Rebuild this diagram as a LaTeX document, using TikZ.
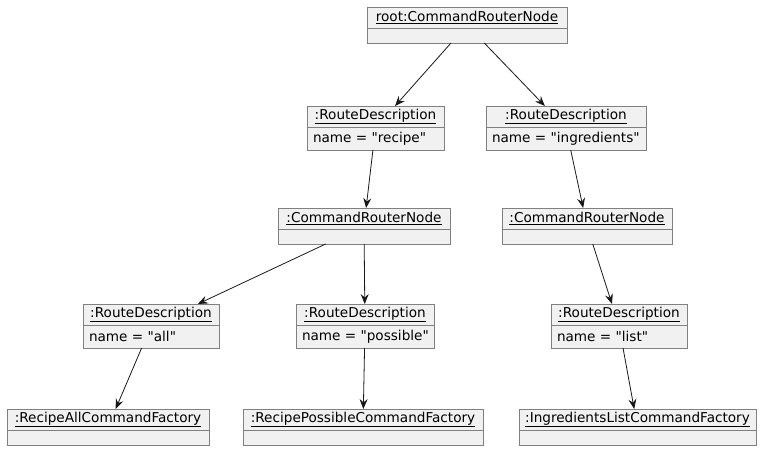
\documentclass[tikz,border=0pt]{standalone}
\usepackage{fontspec}
\setmainfont{DejaVu Sans}
\usetikzlibrary{arrows.meta}

\begin{document}
\begin{tikzpicture}[x=1pt,y=-1pt,line cap=rect,
		objbox/.style={draw=custcol_80_80_80, fill=custcol_f1_f1_f1, line width=1.0pt, inner sep=0, outer sep=0},
		objline/.style={draw=custcol_80_80_80, line width=1.0pt},
		objtitle/.style={inner sep=0, outer sep=0, anchor=center, font=\fontsize{13.6pt}{13.6pt}\selectfont},
		objattr/.style={inner sep=0, outer sep=0, anchor=west, font=\fontsize{13.6pt}{13.6pt}\selectfont},
		link/.style={draw=custcol_18_18_18, line width=0.8pt, line cap=butt, -{Stealth[length=10pt,width=8pt,inset=3.5pt]}}]
				\def\q{\textquotedbl} % straight quote, not the curly one
				\definecolor{custcol_80_80_80}{RGB}{128, 128, 128}
				\definecolor{custcol_f1_f1_f1}{RGB}{241, 241, 241}
				\definecolor{custcol_18_18_18}{RGB}{24, 24, 24}
				\useasboundingbox (0.0,0.0) rectangle (764.0,450.0);
				% row 1
				\node[objbox, minimum width=200pt, minimum height=36pt] (root) at (467.0,25.0) {};
				\draw [objline] ([yshift=-21pt]root.north west) -- ([yshift=-21pt]root.north east);
				\node[objtitle] (rootT) at ([yshift=-10.5pt]root.north) {\underline{root:CommandRouterNode}};
				% row 2
				\node[objbox, minimum width=137pt, minimum height=44pt] (recipe) at (375.5,128.0) {};
				\draw [objline] ([yshift=-21pt]recipe.north west) -- ([yshift=-21pt]recipe.north east);
				\node[objtitle] (recipeT) at ([yshift=-10.5pt]recipe.north) {\underline{:RouteDescription}};
				\node[objattr] (recipeA) at ([xshift=6pt,yshift=-32.5pt]recipe.north west) {name = \q recipe\q};
				\node[objbox, minimum width=160pt, minimum height=44pt] (ingredients) at (566.0,128.0) {};
				\draw [objline] ([yshift=-21pt]ingredients.north west) -- ([yshift=-21pt]ingredients.north east);
				\node[objtitle] (ingredientsT) at ([yshift=-10.5pt]ingredients.north) {\underline{:RouteDescription}};
				\node[objattr] (ingredientsA) at ([xshift=6pt,yshift=-32.5pt]ingredients.north west) {name = \q ingredients\q};
				% row 3
				\node[objbox, minimum width=172pt, minimum height=36pt] (recipeRouter) at (364.0,226.0) {};
				\draw [objline] ([yshift=-21pt]recipeRouter.north west) -- ([yshift=-21pt]recipeRouter.north east);
				\node[objtitle] (recipeRouterT) at ([yshift=-10.5pt]recipeRouter.north) {\underline{:CommandRouterNode}};
				\node[objbox, minimum width=170pt, minimum height=36pt] (ingredientsRouter) at (587.0,226.0) {};
				\draw [objline] ([yshift=-21pt]ingredientsRouter.north west) -- ([yshift=-21pt]ingredientsRouter.north east);
				\node[objtitle] (ingredientsRouterT) at ([yshift=-10.5pt]ingredientsRouter.north) {\underline{:CommandRouterNode}};
				% row 4
				\node[objbox, minimum width=136pt, minimum height=44pt] (all) at (151.0,326.0) {};
				\draw [objline] ([yshift=-21pt]all.north west) -- ([yshift=-21pt]all.north east);
				\node[objtitle] (allT) at ([yshift=-10.5pt]all.north) {\underline{:RouteDescription}};
				\node[objattr] (allA) at ([xshift=6pt,yshift=-32.5pt]all.north west) {name = \q all\q};
				\node[objbox, minimum width=138pt, minimum height=44pt] (possible) at (365.0,326.0) {};
				\draw [objline] ([yshift=-21pt]possible.north west) -- ([yshift=-21pt]possible.north east);
				\node[objtitle] (possibleT) at ([yshift=-10.5pt]possible.north) {\underline{:RouteDescription}};
				\node[objattr] (possibleA) at ([xshift=6pt,yshift=-32.5pt]possible.north west) {name = \q possible\q};
				\node[objbox, minimum width=136pt, minimum height=44pt] (list) at (619.0,326.0) {};
				\draw [objline] ([yshift=-21pt]list.north west) -- ([yshift=-21pt]list.north east);
				\node[objtitle] (listT) at ([yshift=-10.5pt]list.north) {\underline{:RouteDescription}};
				\node[objattr] (listA) at ([xshift=6pt,yshift=-32.5pt]list.north west) {name = \q list\q};
				% row 5
				\node[objbox, minimum width=202pt, minimum height=36pt] (allFactory) at (108.0,427.0) {};
				\draw [objline] ([yshift=-21pt]allFactory.north west) -- ([yshift=-21pt]allFactory.north east);
				\node[objtitle] (allFactoryT) at ([yshift=-10.5pt]allFactory.north) {\underline{:RecipeAllCommandFactory}};
				\node[objbox, minimum width=240pt, minimum height=36pt] (possibleFactory) at (363.0,427.0) {};
				\draw [objline] ([yshift=-21pt]possibleFactory.north west) -- ([yshift=-21pt]possibleFactory.north east);
				\node[objtitle] (possibleFactoryT) at ([yshift=-10.5pt]possibleFactory.north) {\underline{:RecipePossibleCommandFactory}};
				\node[objbox, minimum width=237pt, minimum height=36pt] (listFactory) at (637.5,427.0) {};
				\draw [objline] ([yshift=-21pt]listFactory.north west) -- ([yshift=-21pt]listFactory.north east);
				\node[objtitle] (listFactoryT) at ([yshift=-10.5pt]listFactory.north) {\underline{:IngredientsListCommandFactory}};
				% links
				\draw [link] (root) -- (recipe);
				\draw [link] (root) -- (ingredients);
				\draw [link] (recipe) -- (recipeRouter);
				\draw [link] (ingredients) -- (ingredientsRouter);
				\draw [link] (recipeRouter) -- (all);
				\draw [link] (recipeRouter) -- (possible);
				\draw [link] (ingredientsRouter) -- (list);
				\draw [link] (all) -- (allFactory);
				\draw [link] (possible) -- (possibleFactory);
				\draw [link] (list) -- (listFactory);
			\end{tikzpicture}
\end{document}
